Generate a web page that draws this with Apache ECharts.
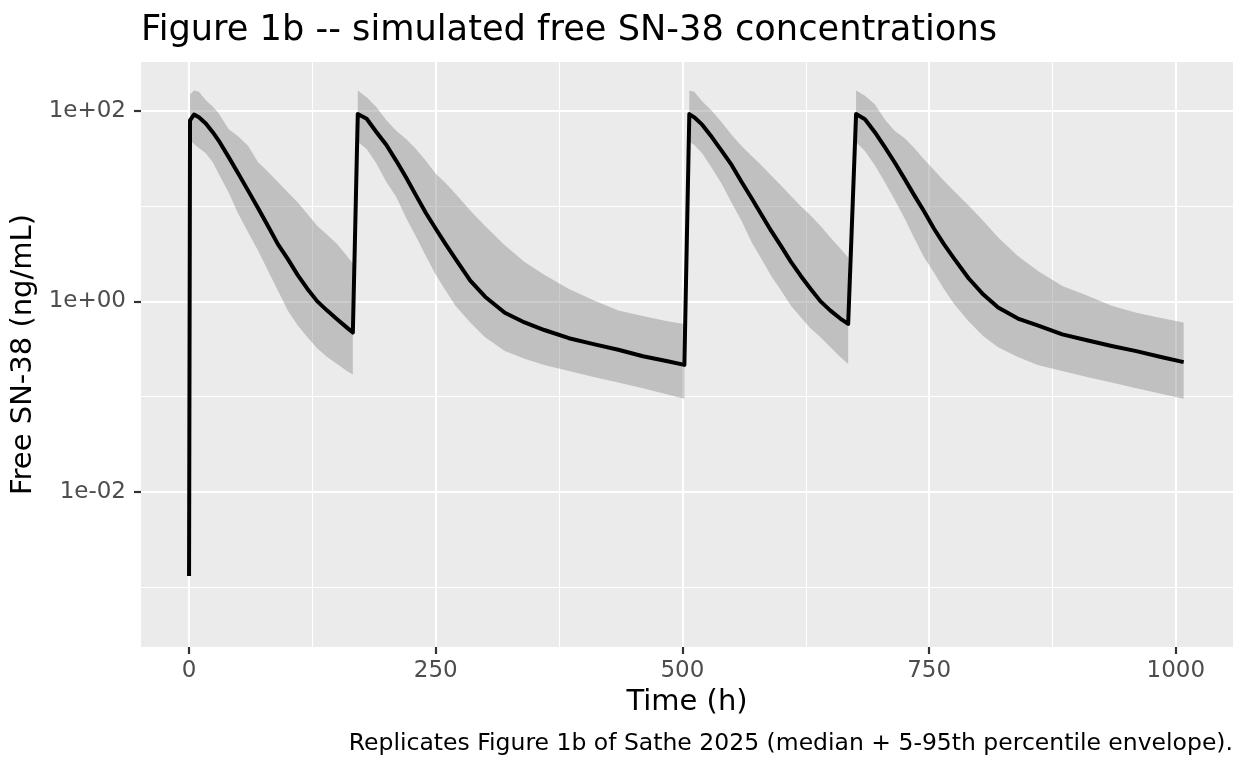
<!DOCTYPE html>
<html>
<head>
<meta charset="utf-8">
<script src="https://cdn.jsdelivr.net/npm/echarts@6/dist/echarts.min.js"></script>
<style>
  html, body { margin: 0; padding: 0; background: #fff; }
  #chart { width: 1248px; height: 768px; }
</style>
</head>
<body>
<div id="chart"></div>
<script>
// time (h); a null ribbon value breaks the 5-95th envelope at a dose
var time = [
  0, 1, 5, 10, 17, 24, 30, 40, 50, 60, 70, 80, 90, 100, 110, 120, 130, 140, 150, 160, 166, 168,
  171, 180, 190, 200, 210, 220, 230, 240, 250, 260, 270, 285, 300, 320, 340, 360, 385, 410, 435, 460, 485, 502, 503,
  507, 512, 520, 530, 540, 550, 560, 570, 580, 590, 600, 610, 620, 630, 640, 650, 660, 668, 669,
  676, 685, 695, 705, 715, 725, 735, 745, 755, 765, 775, 790, 805, 820, 840, 860, 885, 910, 935, 960, 985, 1008
];
var median = [
  0.0013, 80, 92, 86, 74, 60, 49, 33, 22, 14.5, 9.5, 6.2, 4.0, 2.8, 1.9, 1.35, 1.0, 0.8, 0.65, 0.53, 0.47, 0.46,
  93, 83, 60, 44, 30, 20, 13, 8.5, 5.8, 4.0, 2.8, 1.65, 1.12, 0.76, 0.6, 0.5, 0.41, 0.355, 0.31, 0.265, 0.235, 0.215, 0.214,
  93, 86, 72, 53, 38, 27, 18, 12.2, 8.2, 5.5, 3.8, 2.6, 1.85, 1.35, 1.0, 0.8, 0.66, 0.58, 0.575,
  93, 82, 60, 42, 29, 19.5, 13, 8.8, 5.8, 4.0, 2.85, 1.75, 1.18, 0.86, 0.66, 0.56, 0.45, 0.39, 0.34, 0.3, 0.26, 0.23
];
var lower = [
  null, 50, 45, 41, 36, 29, 22, 14, 8.3, 5.3, 3.4, 2.1, 1.3, 0.8, 0.56, 0.42, 0.32, 0.26, 0.22, 0.185, 0.17, null,
  47.5, 40, 28, 18, 12.5, 7.5, 4.8, 3.0, 1.9, 1.3, 0.9, 0.6, 0.42, 0.3, 0.25, 0.215, 0.185, 0.16, 0.14, 0.122, 0.105, 0.095, null,
  48, 44, 36, 25, 17, 10.8, 7, 4.2, 2.8, 1.85, 1.3, 0.9, 0.68, 0.52, 0.42, 0.33, 0.26, 0.22, null,
  47, 38, 27, 18, 11.8, 7.5, 4.6, 2.9, 2.0, 1.35, 0.95, 0.62, 0.43, 0.33, 0.26, 0.215, 0.185, 0.16, 0.14, 0.122, 0.107, 0.095
];
var upper = [
  null, 150, 165, 160, 130, 112, 95, 65, 54, 43, 29, 23, 18, 14, 11, 8.3, 6.2, 5.0, 4.0, 3.0, 2.5, null,
  165, 140, 110, 80, 62, 51, 40, 30, 22, 17.5, 13.5, 9.0, 6.2, 3.9, 2.6, 1.9, 1.35, 1.03, 0.8, 0.7, 0.62, 0.58, null,
  165, 160, 127, 100, 76, 56, 43, 34, 27, 21, 16.5, 12.8, 10, 8.0, 6.2, 4.7, 3.6, 2.9, null,
  165, 145, 118, 82, 62, 52, 41, 31, 24, 18.5, 14.5, 10.2, 7.0, 4.7, 3.0, 2.1, 1.45, 1.15, 0.9, 0.76, 0.67, 0.6
];
var xMajor = [0, 250, 500, 750, 1000];
var xMinor = [125, 375, 625, 875];
var yMajor = [0.01, 1, 100];
var yMinor = [0.001, 0.1, 10];

var FONT = 'DejaVu Sans';

function sciLabel(v) {
  var e = Math.round(Math.log10(v));
  if (Math.abs(Math.log10(v) - e) > 1e-6) return '';
  var a = Math.abs(e);
  return '1e' + (e < 0 ? '-' : '+') + (a < 10 ? '0' + a : '' + a);
}

// envelope: one polygon per dosing interval
function renderRibbon(params, api) {
  var children = [];
  var top = [], bot = [];
  function flush() {
    if (top.length > 1) {
      children.push({
        type: 'polygon',
        shape: { points: top.concat(bot.reverse()) },
        style: { fill: 'rgba(127,127,127,0.4)', stroke: null }
      });
    }
    top = []; bot = [];
  }
  for (var i = 0; i < time.length; i++) {
    if (lower[i] == null || upper[i] == null) { flush(); continue; }
    top.push(api.coord([time[i], upper[i]]));
    bot.push(api.coord([time[i], lower[i]]));
  }
  flush();
  return { type: 'group', children: children };
}

var lineData = [];
for (var i = 0; i < time.length; i++) lineData.push([time[i], median[i]]);

var chart = echarts.init(document.getElementById('chart'), null, { renderer: 'canvas' });
var option = {
  animation: false,
  backgroundColor: '#ffffff',
  textStyle: { fontFamily: FONT },
  title: [{
    text: 'Figure 1b -- simulated free SN-38 concentrations',
    left: 136, top: 8,
    textStyle: { fontFamily: FONT, fontSize: 35.2, fontWeight: 'normal', color: '#000' }
  }, {
    text: 'Replicates Figure 1b of Sathe 2025 (median + 5-95th percentile envelope).',
    right: 10, top: 727,
    textStyle: { fontFamily: FONT, fontSize: 23.5, fontWeight: 'normal', color: '#000' }
  }],
  grid: {
    left: 141, right: 15, top: 62, bottom: 121,
    show: true, backgroundColor: '#EBEBEB', borderWidth: 0
  },
  xAxis: [{
    type: 'value', min: -48.7, max: 1058, position: 'bottom',
    name: 'Time (h)', nameLocation: 'middle', nameGap: 37,
    nameTextStyle: { fontFamily: FONT, fontSize: 29, color: '#000' },
    axisLine: { show: false, onZero: false },
    axisTick: { show: true, length: 7, customValues: xMajor, lineStyle: { color: '#333333', width: 2.2 } },
    axisLabel: { customValues: xMajor, margin: 13, fontFamily: FONT, fontSize: 23, color: '#4D4D4D',
      formatter: function (v) { return String(v); } },
    splitLine: { show: true, lineStyle: { color: '#ffffff', width: 2.1 } }
  }, {
    type: 'value', min: -48.7, max: 1058, position: 'bottom',
    axisLine: { show: false, onZero: false },
    axisTick: { show: false, customValues: xMinor },
    axisLabel: { show: false },
    splitLine: { show: true, lineStyle: { color: '#ffffff', width: 1.1 } }
  }],
  yAxis: [{
    type: 'log', logBase: 10, min: 2.33e-4, max: 328, position: 'left',
    name: 'Free SN-38 (ng/mL)', nameLocation: 'middle', nameGap: 96,
    nameTextStyle: { fontFamily: FONT, fontSize: 29, color: '#000' },
    axisLine: { show: false, onZero: false },
    axisTick: { show: true, length: 7, customValues: yMajor, lineStyle: { color: '#333333', width: 2.2 } },
    axisLabel: { customValues: yMajor, margin: 15, fontFamily: FONT, fontSize: 23, color: '#4D4D4D', formatter: sciLabel },
    splitLine: { show: true, lineStyle: { color: '#ffffff', width: 2.1 } }
  }, {
    type: 'log', logBase: 10, min: 2.33e-4, max: 328, position: 'left',
    axisLine: { show: false, onZero: false },
    axisTick: { show: false, customValues: yMinor },
    axisLabel: { show: false },
    splitLine: { show: true, lineStyle: { color: '#ffffff', width: 1.1 } }
  }],
  series: [{
    name: '5-95th percentile',
    type: 'custom',
    xAxisIndex: 0, yAxisIndex: 0,
    renderItem: renderRibbon,
    data: [[0, 1]],
    silent: true,
    z: 2
  }, {
    name: 'Median',
    type: 'line',
    xAxisIndex: 0, yAxisIndex: 0,
    data: lineData,
    showSymbol: false,
    symbol: 'none',
    lineStyle: { color: '#000000', width: 4, join: 'round' },
    z: 3
  }]
};
chart.setOption(option);
window.onresize = chart.resize;
</script>
</body>
</html>
